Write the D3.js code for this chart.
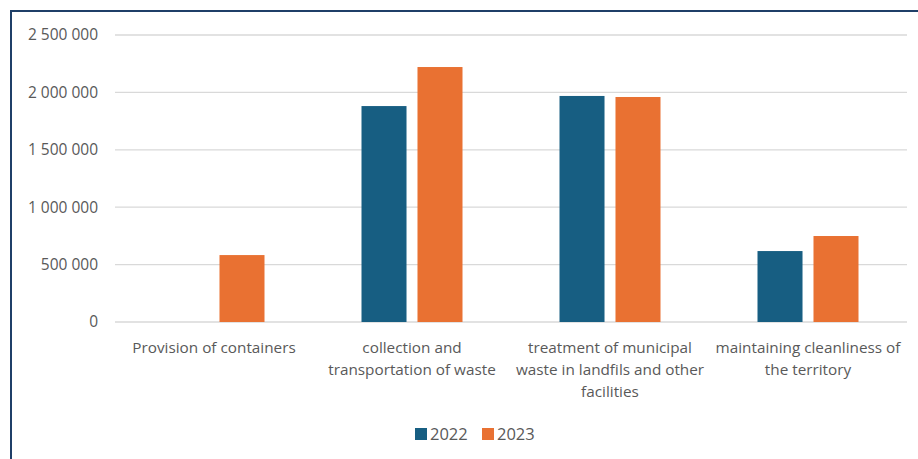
<!DOCTYPE html>
<html>
<head>
<meta charset="utf-8">
<script src="https://cdn.jsdelivr.net/npm/d3@7"></script>
<style>
  body { margin: 0; background: #fff; }
  svg { display: block; font-family: "Open Sans", "Noto Sans", sans-serif; }
</style>
</head>
<body>
<svg id="chart" width="918" height="459"></svg>
<script>
let categories = [
    'Provision of containers',
    'collection and transportation of waste',
    'treatment of municipal waste in landfils and other facilities',
    'maintaining cleanliness of the territory'
]
let categoryLines = [
    ['Provision of containers'],
    ['collection and', 'transportation of waste'],
    ['treatment of municipal', 'waste in landfils and other', 'facilities'],
    ['maintaining cleanliness of', 'the territory']
]
let seriesNames = ['2022', '2023']
let values2022 = [0, 1881000, 1969000, 618000]
let values2023 = [583000, 2221000, 1960000, 749000]
let yTicks = [0, 500000, 1000000, 1500000, 2000000, 2500000]
let colors = ['#175e82', '#e97132']

let svg = d3.select('#chart')
let margin = {top: 35, right: 11, bottom: 137, left: 115}
let width = 918 - margin.left - margin.right
let height = 459 - margin.top - margin.bottom

// frame (only top and left edges are visible in the crop)
svg.append('path')
    .attr('d', 'M11,459 V11 H918')
    .attr('fill', 'none')
    .attr('stroke', '#1f3f68')
    .attr('stroke-width', 2)

let g = svg.append('g').attr('transform', 'translate(' + margin.left + ',' + margin.top + ')')

let x = d3.scaleBand().domain(categories).range([0, width])
let x1 = d3.scaleBand().domain(seriesNames).range([x.bandwidth() / 2 - 50.5, x.bandwidth() / 2 + 50.5]).paddingInner(0.196)
let y = d3.scaleLinear().domain([0, 2500000]).range([height, 0])

let locale = d3.formatLocale({decimal: ',', thousands: ' ', grouping: [3], currency: ['', '']})
let fmt = locale.format(',.0f')

// gridlines
g.append('g')
    .selectAll('line')
    .data(yTicks)
    .enter().append('line')
    .attr('x1', 0)
    .attr('x2', width)
    .attr('y1', d => y(d))
    .attr('y2', d => y(d))
    .attr('stroke', '#d9d9d9')
    .attr('stroke-width', 1.3)

// y tick labels
g.append('g')
    .selectAll('text')
    .data(yTicks)
    .enter().append('text')
    .attr('x', -17)
    .attr('y', d => y(d))
    .attr('dy', '0.35em')
    .attr('text-anchor', 'end')
    .attr('fill', '#595959')
    .style('font-size', '15.5px')
    .text(d => fmt(d))

let series = [values2022, values2023]
series.forEach((vals, si) => {
    g.append('g')
        .selectAll('rect')
        .data(vals)
        .enter().append('rect')
        .attr('x', (d, i) => x(categories[i]) + x1(seriesNames[si]))
        .attr('width', x1.bandwidth())
        .attr('y', d => y(d))
        .attr('height', d => height - y(d))
        .attr('fill', colors[si])
})

// category labels
let labels = g.append('g')
    .selectAll('text')
    .data(categoryLines)
    .enter().append('text')
    .attr('text-anchor', 'middle')
    .attr('fill', '#595959')
    .style('font-size', '15.3px')
labels.each(function(lines, i) {
    let t = d3.select(this)
    lines.forEach((line, li) => {
        t.append('tspan')
            .attr('x', x(categories[i]) + x.bandwidth() / 2)
            .attr('y', height + 31 + li * 22)
            .text(line)
    })
})

// legend
let legend = svg.append('g').attr('transform', 'translate(415,434)')
seriesNames.forEach((name, i) => {
    let lg = legend.append('g').attr('transform', 'translate(' + (i * 67) + ',0)')
    lg.append('rect')
        .attr('x', 0)
        .attr('y', -6)
        .attr('width', 12)
        .attr('height', 12)
        .attr('fill', colors[i])
    lg.append('text')
        .attr('x', 15)
        .attr('y', 0)
        .attr('dy', '0.35em')
        .attr('fill', '#595959')
        .style('font-size', '16.5px')
        .text(name)
})
</script>
</body>
</html>
